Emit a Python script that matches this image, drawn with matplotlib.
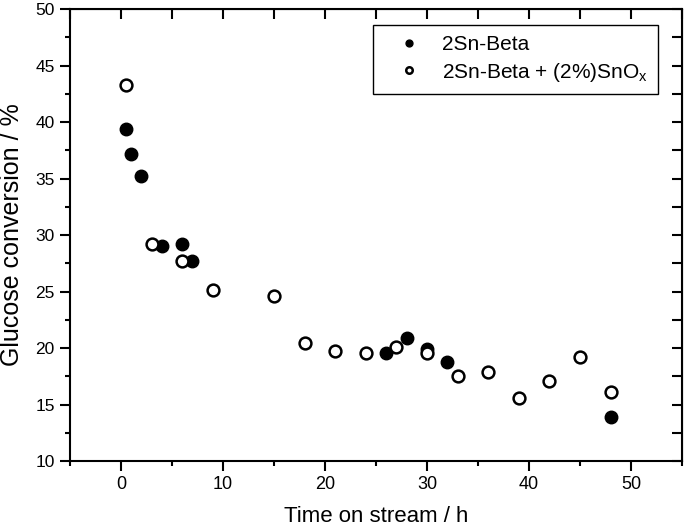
import matplotlib
matplotlib.use("Agg")
import matplotlib.pyplot as plt
from matplotlib.ticker import MultipleLocator

plt.rcParams['font.family'] = ['Liberation Sans', 'DejaVu Sans']
plt.rcParams['mathtext.fontset'] = 'custom'
plt.rcParams['mathtext.rm'] = 'Liberation Sans'

# 2Sn-Beta (filled)
t_beta = [0.5, 1, 2, 4, 6, 7, 26, 28, 30, 32, 48]
conv_beta = [39.4, 37.2, 35.2, 29.0, 29.2, 27.7, 19.6, 20.9, 19.9, 18.8, 13.9]

# 2Sn-Beta + (2%)SnOx (open)
t_snox = [0.5, 3, 6, 9, 15, 18, 21, 24, 27, 30, 33, 36, 39, 42, 45, 48]
conv_snox = [43.3, 29.2, 27.7, 25.1, 24.6, 20.4, 19.75, 19.55, 20.1, 19.6,
             17.5, 17.9, 15.6, 17.1, 19.2, 16.1]

fig = plt.figure(figsize=(6.85, 5.27), dpi=100)
ax = fig.add_axes([0.1022, 0.1252, 0.8934, 0.8577])

ax.plot(t_beta, conv_beta, 'o', color='black', markersize=9,
        label='2Sn-Beta')
ax.plot(t_snox, conv_snox, 'o', markerfacecolor='white', markeredgecolor='black',
        markeredgewidth=1.8, markersize=8.5,
        label='2Sn-Beta + (2%)SnO$_\\mathregular{x}$')

ax.set_xlim(-5, 55)
ax.set_ylim(10, 50)
ax.xaxis.set_major_locator(MultipleLocator(10))
ax.xaxis.set_minor_locator(MultipleLocator(5))
ax.yaxis.set_major_locator(MultipleLocator(5))
ax.yaxis.set_minor_locator(MultipleLocator(2.5))
ax.tick_params(which='major', direction='out', length=7, width=1.5, pad=4)
ax.tick_params(which='minor', direction='out', length=3.5, width=1.5)
ax.tick_params(axis='x', labelsize=13)
ax.tick_params(axis='y', labelsize=12.5)
for s in ax.spines.values():
    s.set_linewidth(1.5)

# mirrored ticks on top/right pointing inward
top = ax.secondary_xaxis('top')
top.xaxis.set_major_locator(MultipleLocator(5))
top.tick_params(direction='in', length=7, width=1.5, labeltop=False)
right = ax.secondary_yaxis('right')
right.yaxis.set_major_locator(MultipleLocator(2.5))
right.tick_params(direction='in', length=7, width=1.5, labelright=False)

ax.set_xlabel('Time on stream / h', fontsize=16, labelpad=9)
ax.set_ylabel('Glucose conversion / %', fontsize=18, labelpad=8)

leg = ax.legend(loc='upper left', bbox_to_anchor=(373 / 685, 1 - 25 / 527),
                bbox_transform=fig.transFigure, borderaxespad=0, fontsize=15,
                fancybox=False, edgecolor='black', framealpha=1,
                markerscale=0.55, handlelength=2.5, handletextpad=0.3,
                borderpad=0.5, labelspacing=0.3)
leg.get_frame().set_linewidth(1.0)

fig.savefig('out.png', dpi=100)
